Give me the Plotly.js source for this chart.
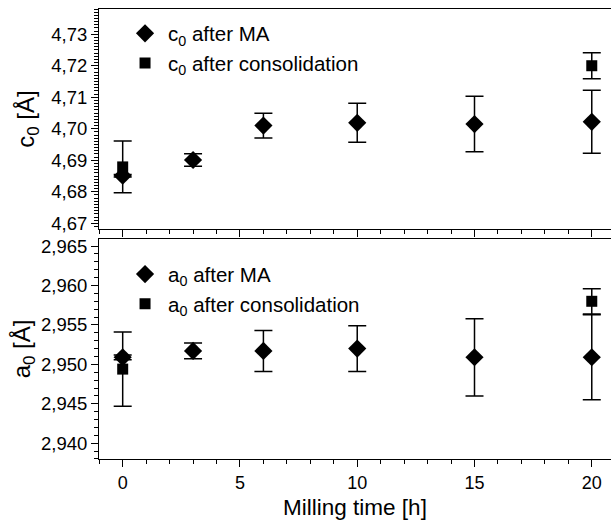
<!DOCTYPE html>
<html>
<head>
<meta charset="utf-8">
<script src="https://cdn.plot.ly/plotly-3.0.1.min.js"></script>
<style>html,body{margin:0;padding:0;background:#fff;}#chart{width:612px;height:527px;}</style>
</head>
<body>
<div id="chart"></div>
<script>
// Milling time [h]
var timeMA = [0, 3, 6, 10, 15, 20];
var timeCons = [0, 20];
// lattice parameter c0 [Å]
var c0MA = [4.6851, 4.6901, 4.7010, 4.7019, 4.7015, 4.7022];
var c0MAErr = [0.0004, 0.0020, 0.0039, 0.0062, 0.0088, 0.0100];
var c0Cons = [4.6879, 4.7200];
var c0ConsErr = [0.0082, 0.0041];
// lattice parameter a0 [Å]
var a0MA = [2.9509, 2.9517, 2.9517, 2.9520, 2.9509, 2.9509];
var a0MAErr = [0.0003, 0.0010, 0.0026, 0.0029, 0.0049, 0.0054];
var a0Cons = [2.9494, 2.9580];
var a0ConsErr = [0.0047, 0.0016];

var FONT = 'Liberation Sans, Arial, sans-serif';
function errY(arr) {
  return {type: 'data', array: arr, visible: true, color: '#000', thickness: 1.5, width: 9};
}
var diamond = {symbol: 'diamond', size: 14, color: '#000'};
var square = {symbol: 'square', size: 11, color: '#000'};

var traces = [
  {x: timeMA, y: c0MA, error_y: errY(c0MAErr), mode: 'markers', marker: diamond,
   name: 'c<sub>0</sub> after MA', xaxis: 'x2', yaxis: 'y2', legend: 'legend'},
  {x: timeCons, y: c0Cons, error_y: errY(c0ConsErr), mode: 'markers', marker: square,
   name: 'c<sub>0</sub> after consolidation', xaxis: 'x2', yaxis: 'y2', legend: 'legend'},
  {x: timeMA, y: a0MA, error_y: errY(a0MAErr), mode: 'markers', marker: diamond,
   name: 'a<sub>0</sub> after MA', xaxis: 'x', yaxis: 'y', legend: 'legend2'},
  {x: timeCons, y: a0Cons, error_y: errY(a0ConsErr), mode: 'markers', marker: square,
   name: 'a<sub>0</sub> after consolidation', xaxis: 'x', yaxis: 'y', legend: 'legend2'}
];

var xCommon = {
  range: [-1.01, 20.82], dtick: 5, tick0: 0, ticks: 'outside', ticklen: 7, tickwidth: 1,
  tickcolor: '#000', showline: true, linecolor: '#000', linewidth: 1, mirror: true,
  showgrid: false, zeroline: false,
  minor: {dtick: 1, ticks: 'outside', ticklen: 4, tickcolor: '#000', showgrid: false}
};

var layout = {
  width: 612, height: 527,
  margin: {l: 99, r: 1, t: 9, b: 68},
  paper_bgcolor: '#fff', plot_bgcolor: '#fff',
  separators: ',.',
  font: {family: FONT, color: '#000', size: 18},
  showlegend: true,
  xaxis: Object.assign({}, xCommon, {
    anchor: 'y', domain: [0, 1],
    tickfont: {size: 18},
    title: {text: 'Milling time [h]', font: {size: 22.5}, standoff: 7}
  }),
  xaxis2: Object.assign({}, xCommon, {anchor: 'y2', domain: [0, 1], showticklabels: false}),
  yaxis: {
    anchor: 'x', domain: [0, 0.4889], range: [2.938, 2.9659], dtick: 0.005, tick0: 2.94,
    tickformat: '.3f', ticks: 'outside', ticklen: 7, tickcolor: '#000', showline: true,
    linecolor: '#000', showgrid: false, zeroline: false, tickfont: {size: 18.5},
    minor: {dtick: 0.001, ticks: 'outside', ticklen: 4, tickcolor: '#000', showgrid: false},
    title: {text: 'a<sub>0</sub> [Å]', font: {size: 24}, standoff: 3}
  },
  yaxis2: {
    anchor: 'x2', domain: [0.5111, 1], range: [4.6682, 4.738], dtick: 0.01, tick0: 4.67,
    tickformat: '.2f', ticks: 'outside', ticklen: 7, tickcolor: '#000', showline: true,
    linecolor: '#000', showgrid: false, zeroline: false, tickfont: {size: 18.5},
    minor: {dtick: 0.001, ticks: 'outside', ticklen: 4, tickcolor: '#000', showgrid: false},
    title: {text: 'c<sub>0</sub> [Å]', font: {size: 24}, standoff: 9}
  },
  legend: {x: 0.045, y: 0.99, xanchor: 'left', yanchor: 'top', bgcolor: 'rgba(0,0,0,0)',
           font: {size: 20.5}, tracegroupgap: 0, itemwidth: 36},
  legend2: {x: 0.045, y: 0.455, xanchor: 'left', yanchor: 'top', bgcolor: 'rgba(0,0,0,0)',
            font: {size: 20.5}, tracegroupgap: 0, itemwidth: 36}
};

Plotly.newPlot('chart', traces, layout, {displayModeBar: false, staticPlot: true});
</script>
</body>
</html>
